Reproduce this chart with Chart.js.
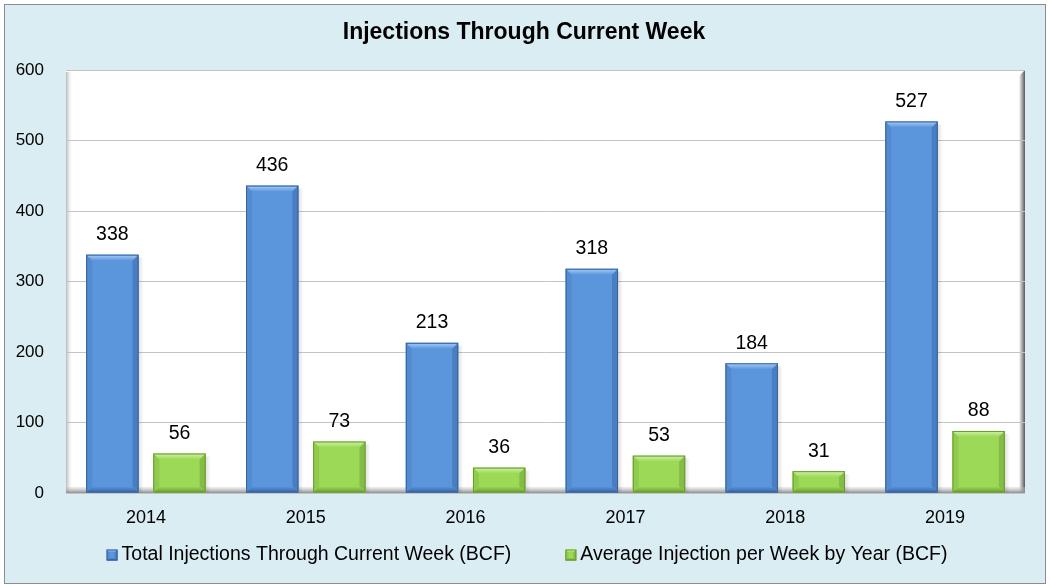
<!DOCTYPE html>
<html>
<head>
<meta charset="utf-8">
<script src="https://cdn.jsdelivr.net/npm/chart.js@4.4.1/dist/chart.umd.min.js"></script>
<style>
  html, body { margin: 0; padding: 0; background: #fff; }
  #wrap { width: 1050px; height: 588px; }
</style>
</head>
<body>
<div id="wrap"><canvas id="injChart" width="1050" height="588"></canvas></div>
<script>
const years = ['2014', '2015', '2016', '2017', '2018', '2019'];
const totalInjections = [338, 436, 213, 318, 184, 527];
const avgPerWeek = [56, 73, 36, 53, 31, 88];
const yTicks = [0, 100, 200, 300, 400, 500, 600];

const FONT = '"Liberation Sans", Arial, sans-serif';

// colours per series: face, light edge, dark edge
const palette = [
  { face: '#5b96dd', light: '#aacdf6', dark: '#36629f' },
  { face: '#9bd957', light: '#d0f3a6', dark: '#689a30' }
];

// --- frame, plot box, title ---
const framePlugin = {
  id: 'frame',
  beforeDraw(chart) {
    const { ctx, chartArea: a } = chart;
    ctx.save();
    ctx.fillStyle = '#fff';
    ctx.fillRect(0, 0, chart.width, chart.height);
    ctx.fillStyle = '#daedf3';
    ctx.fillRect(4.5, 4.5, 1041, 579);
    ctx.strokeStyle = '#8c8c8c';
    ctx.lineWidth = 1;
    ctx.strokeRect(4.5, 4.5, 1041, 579);

    // plot box
    ctx.fillStyle = '#fff';
    ctx.fillRect(a.left, a.top, a.right - a.left, a.bottom - a.top);
    // left inner shade
    let g = ctx.createLinearGradient(a.left, 0, a.left + 7, 0);
    g.addColorStop(0, '#b8b8b8');
    g.addColorStop(1, 'rgba(255,255,255,0)');
    ctx.fillStyle = g;
    ctx.fillRect(a.left, a.top + 2, 7, a.bottom - a.top - 2);
    // right side shade
    g = ctx.createLinearGradient(a.right - 7, 0, a.right, 0);
    g.addColorStop(0, 'rgba(255,255,255,0)');
    g.addColorStop(0.4, '#c8c8c8');
    g.addColorStop(1, '#5a5a5a');
    ctx.fillStyle = g;
    ctx.beginPath();
    ctx.moveTo(a.right - 7, a.top + 7);
    ctx.lineTo(a.right, a.top);
    ctx.lineTo(a.right, a.bottom);
    ctx.lineTo(a.right - 7, a.bottom);
    ctx.closePath();
    ctx.fill();
    ctx.strokeStyle = '#a6a6a6';
    ctx.beginPath();
    ctx.moveTo(a.left, a.top + 0.5);
    ctx.lineTo(a.right, a.top + 0.5);
    ctx.stroke();

    ctx.fillStyle = '#000';
    ctx.font = 'bold 23px ' + FONT;
    ctx.textAlign = 'center';
    ctx.textBaseline = 'middle';
    ctx.fillText('Injections Through Current Week', 524, 33);
    ctx.restore();
  },
  beforeDatasetsDraw(chart) {
    const { ctx, chartArea: a } = chart;
    ctx.save();
    // floor band
    const g = ctx.createLinearGradient(0, a.bottom - 6, 0, a.bottom);
    g.addColorStop(0, 'rgba(200,200,200,0.3)');
    g.addColorStop(1, '#8e8e8e');
    ctx.fillStyle = g;
    ctx.fillRect(a.left, a.bottom - 6, a.right - a.left, 6);
    ctx.restore();
  },
  afterDraw(chart) {
    const { ctx } = chart;
    ctx.save();
    // legend
    ctx.font = '19.5px ' + FONT;
    ctx.textBaseline = 'middle';
    const items = chart.data.datasets.map((d, i) => ({ text: d.label, col: palette[i] }));
    const gap = 54, box = 11, boxGap = 4;
    const widths = items.map(it => box + boxGap + ctx.measureText(it.text).width);
    const total = widths.reduce((s, w) => s + w, 0) + gap * (items.length - 1);
    let x = 527 - total / 2;
    const y = 555;
    items.forEach((it, i) => {
      drawBevel(ctx, x, y - box / 2, box, box, it.col, 3);
      ctx.fillStyle = '#000';
      ctx.textAlign = 'left';
      ctx.fillText(it.text, x + box + boxGap, y);
      x += widths[i] + gap;
    });
    ctx.restore();
  }
};

function drawBevel(ctx, x, y, w, h, col, b) {
  ctx.fillStyle = col.face;
  ctx.fillRect(x, y, w, h);
  // top
  let g = ctx.createLinearGradient(0, y, 0, y + b);
  g.addColorStop(0, col.light);
  g.addColorStop(1, col.face);
  ctx.fillStyle = g;
  ctx.beginPath();
  ctx.moveTo(x, y); ctx.lineTo(x + w, y); ctx.lineTo(x + w - b, y + b); ctx.lineTo(x + b, y + b);
  ctx.closePath(); ctx.fill();
  // left
  ctx.fillStyle = col.dark;
  ctx.globalAlpha = 0.22;
  ctx.beginPath();
  ctx.moveTo(x, y); ctx.lineTo(x + b, y + b); ctx.lineTo(x + b, y + h - b); ctx.lineTo(x, y + h);
  ctx.closePath(); ctx.fill();
  // right
  ctx.globalAlpha = 0.45;
  ctx.beginPath();
  ctx.moveTo(x + w, y); ctx.lineTo(x + w, y + h); ctx.lineTo(x + w - b, y + h - b); ctx.lineTo(x + w - b, y + b);
  ctx.closePath(); ctx.fill();
  // bottom
  ctx.globalAlpha = 1;
  g = ctx.createLinearGradient(0, y + h - b, 0, y + h);
  g.addColorStop(0, col.face);
  g.addColorStop(1, col.dark);
  ctx.fillStyle = g;
  ctx.beginPath();
  ctx.moveTo(x, y + h); ctx.lineTo(x + w, y + h); ctx.lineTo(x + w - b, y + h - b); ctx.lineTo(x + b, y + h - b);
  ctx.closePath(); ctx.fill();
  ctx.strokeStyle = col.dark;
  ctx.lineWidth = 1;
  ctx.strokeRect(x + 0.5, y + 0.5, w - 1, h - 1);
}

// --- bevelled bars + value labels ---
const barPlugin = {
  id: 'bevelBars',
  afterDatasetsDraw(chart) {
    const { ctx } = chart;
    ctx.save();
    chart.data.datasets.forEach((ds, di) => {
      const meta = chart.getDatasetMeta(di);
      meta.data.forEach((bar, i) => {
        const p = bar.getProps(['x', 'y', 'base', 'width'], true);
        const left = p.x - p.width / 2;
        // soft shadow right of bar
        const sg = ctx.createLinearGradient(left + p.width, 0, left + p.width + 5, 0);
        sg.addColorStop(0, 'rgba(0,0,0,0.12)');
        sg.addColorStop(1, 'rgba(0,0,0,0)');
        ctx.fillStyle = sg;
        ctx.fillRect(left + p.width, p.y + 3, 5, p.base - p.y - 3);
        drawBevel(ctx, left, p.y, p.width, p.base - p.y, palette[di], 6);
        ctx.fillStyle = '#000';
        ctx.font = '19.5px ' + FONT;
        ctx.textAlign = 'center';
        ctx.textBaseline = 'middle';
        ctx.fillText(String(ds.data[i]), p.x, p.y - 20);
      });
    });
    ctx.restore();
  }
};

new Chart(document.getElementById('injChart'), {
  type: 'bar',
  data: {
    labels: years,
    datasets: [
      { label: 'Total Injections Through Current Week (BCF)', data: totalInjections, backgroundColor: palette[0].face },
      { label: 'Average Injection per Week by Year (BCF)', data: avgPerWeek, backgroundColor: palette[1].face }
    ]
  },
  options: {
    responsive: false,
    animation: false,
    events: [],
    categoryPercentage: 0.84,
    barPercentage: 0.78,
    layout: { padding: { top: 70, right: 25, left: 0, bottom: 0 } },
    plugins: { legend: { display: false }, title: { display: false }, tooltip: { enabled: false } },
    scales: {
      x: {
        grid: { display: false, drawTicks: false },
        border: { display: false },
        ticks: { color: '#000', font: { family: FONT, size: 18 }, padding: 14 },
        afterFit(s) { s.height = 95; }
      },
      y: {
        min: 0, max: 600,
        afterBuildTicks(s) { s.ticks = yTicks.map(v => ({ value: v })); },
        grid: { color: '#c4c4c4', drawTicks: false },
        border: { display: false },
        ticks: { color: '#000', font: { family: FONT, size: 17 }, padding: 22 },
        afterFit(s) { s.width = 66; }
      }
    }
  },
  plugins: [framePlugin, barPlugin]
});
</script>
</body>
</html>
